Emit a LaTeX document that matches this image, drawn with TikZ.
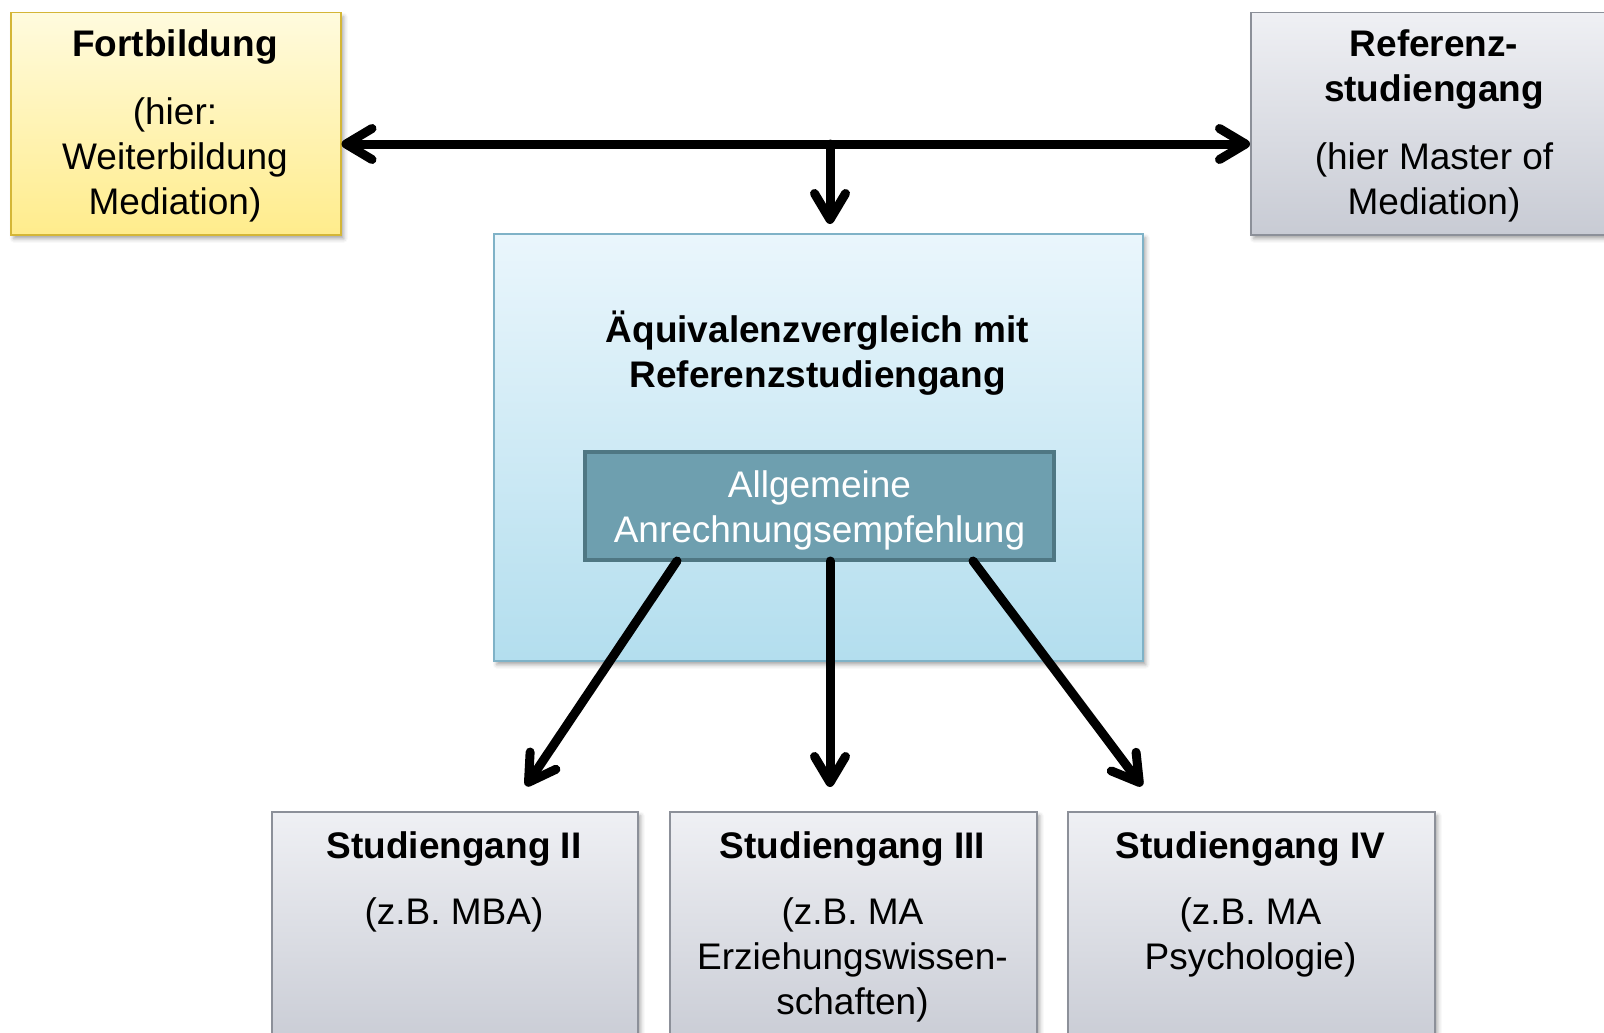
\documentclass[tikz,border=0pt]{standalone}
\usepackage{fontspec}
\setmainfont{Liberation Sans}
\usetikzlibrary{arrows.meta,shadows.blur,calc}

\definecolor{yelTop}{HTML}{FFFBDE}
\definecolor{yelBot}{HTML}{FFEC8C}
\definecolor{yelLine}{HTML}{D4B637}
\definecolor{grayTop}{HTML}{EFF0F4}
\definecolor{grayBot}{HTML}{C8CBD4}
\definecolor{grayLine}{HTML}{8C9099}
\definecolor{bluTop}{HTML}{EAF6FC}
\definecolor{bluBot}{HTML}{B3DEEE}
\definecolor{bluLine}{HTML}{7FB2C7}
\definecolor{tealFill}{HTML}{6E9FAF}
\definecolor{tealLine}{HTML}{4F7783}

\begin{document}
\begin{tikzpicture}[x=1pt,y=-1pt,
  box/.style={rectangle, anchor=north west, inner sep=0pt, line width=1.5pt,
    blur shadow={shadow xshift=3pt, shadow yshift=-4pt, shadow blur radius=4pt, shadow opacity=35}},
  yelbox/.style={box, draw=yelLine, top color=yelTop, bottom color=yelBot},
  graybox/.style={box, draw=grayLine, top color=grayTop, bottom color=grayBot},
  blubox/.style={box, draw=bluLine, top color=bluTop, bottom color=bluBot},
  tealbox/.style={rectangle, anchor=north west, inner sep=0pt, draw=tealLine, line width=4pt, fill=tealFill},
  % multi-line texts are anchored at the baseline of their last line
  txt/.style={anchor=base, inner sep=0pt, align=center, font=\fontsize{37}{45}\selectfont},
  ttl/.style={txt, font=\fontsize{37}{45}\selectfont\bfseries},
  arr/.style={line width=9pt, line cap=round, line join=round, -{Straight Barb[length=26pt, width=31pt, line cap=round, line join=round]}},
  dblarr/.style={line width=9pt, line cap=round, line join=round,
    {Straight Barb[length=26pt, width=31pt, line cap=round, line join=round]}-{Straight Barb[length=26pt, width=31pt, line cap=round, line join=round]}}
]
\useasboundingbox (0,0) rectangle (1604,1033);

% upper row
\node[yelbox, minimum width=330pt, minimum height=222pt] (fort) at (10,12) {};
\node[graybox, minimum width=368pt, minimum height=222pt] (ref) at (1250,12) {};

% comparison box with the recommendation inside
\node[blubox, minimum width=649pt, minimum height=427pt] (equiv) at (493,233) {};
\node[tealbox, minimum width=469pt, minimum height=108pt] (rec) at (583,450) {};

% lower row
\node[graybox, minimum width=366pt, minimum height=240pt] (sg2) at (271,811) {};
\node[graybox, minimum width=367pt, minimum height=240pt] (sg3) at (669,811) {};
\node[graybox, minimum width=367pt, minimum height=240pt] (sg4) at (1067,811) {};

% texts
\node[ttl] (fort-t) at (175,57) {Fortbildung};
\node[txt] (fort-b) at (175,214) {(hier:\\Weiterbildung\\Mediation)};
\node[ttl] (ref-t) at (1434,102) {Referenz-\\studiengang};
\node[txt] (ref-b) at (1434,214) {(hier Master of\\Mediation)};
\node[ttl] (equiv-t) at (817.5,387) {Äquivalenzvergleich mit\\Referenzstudiengang};
\node[txt, text=white] (rec-t) at (819.5,542) {Allgemeine\\Anrechnungsempfehlung};
\node[ttl] (sg2-t) at (454,858) {Studiengang II};
\node[txt] (sg2-b) at (454,924) {(z.B. MBA)};
\node[ttl] (sg3-t) at (852.5,858) {Studiengang III};
\node[txt] (sg3-b) at (852.5,1014) {(z.B. MA\\Erziehungswissen-\\schaften)};
\node[ttl] (sg4-t) at (1250.5,858) {Studiengang IV};
\node[txt] (sg4-b) at (1250.5,969) {(z.B. MA\\Psychologie)};

% connectors
\coordinate (junction) at (830,144);
\coordinate (dropEnd) at (830,224);
\draw[dblarr] (fort.east |- junction) -- (ref.west |- junction);
\draw[arr] (junction) -- (dropEnd);

\coordinate (recL) at (677,561);
\coordinate (recM) at (830,561);
\coordinate (recR) at (973,561);
\coordinate (tip2) at (526,786);
\coordinate (tip3) at (830,787);
\coordinate (tip4) at (1142,786);
\draw[arr] (recL) -- (tip2);
\draw[arr] (recM) -- (tip3);
\draw[arr] (recR) -- (tip4);
\end{tikzpicture}
\end{document}
